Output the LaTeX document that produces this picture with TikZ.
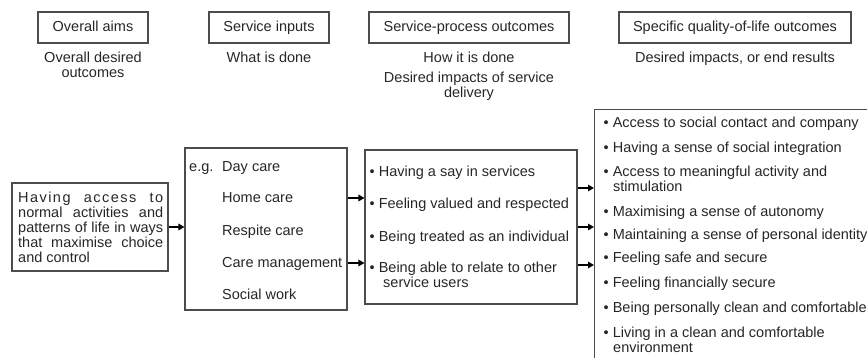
\documentclass[tikz,border=0pt]{standalone}
\usepackage{fontspec}
\setmainfont{Liberation Sans}
\usetikzlibrary{arrows.meta}
\begin{document}
\begin{tikzpicture}[x=1pt,y=-1pt,
  every node/.style={font=\fontsize{14.5}{14.7}\selectfont, inner sep=0pt, text=black!85},
  box/.style={draw=black!70, line width=1.1pt},
  head/.style={box, minimum height=31pt, text height=10.5pt, text depth=3pt},
  arr/.style={-{Triangle[length=6pt,width=6.5pt]}, line width=1.8pt, black},
  lbl/.style={anchor=base west},
  ctr/.style={anchor=base}]
\useasboundingbox (0,0) rectangle (867,358);
\clip (0,0) rectangle (867,358);

% headers
\node[head, minimum width=110pt] (h1) at (93,27.5) {Overall aims};
\node[head, minimum width=120pt] (h2) at (269,27.5) {Service inputs};
\node[head, minimum width=200pt] (h3) at (469,27.5) {Service-process outcomes};
\node[head, minimum width=232pt] (h4) at (735,27.5) {Specific quality-of-life outcomes};

% subtitles
\node[ctr] (s1) at (93,63) {\begin{tabular}[t]{@{}c@{}}Overall desired\\outcomes\end{tabular}};
\node[ctr] (s2) at (269,63) {What is done};
\node[ctr] (s3) at (469,63) {How it is done};
\node[ctr] (s3b) at (469,83) {\begin{tabular}[t]{@{}c@{}}Desired impacts of service\\delivery\end{tabular}};
\node[ctr] (s4) at (735,63) {Desired impacts, or end results};

% overall aim box
\node[box, minimum width=156pt, minimum height=88pt] (aim) at (90,227) {};
\node[lbl] (aimtxt) at (18,203) {\begin{tabular}[t]{@{}l@{}}
\makebox[145pt][s]{\addfontfeature{LetterSpace=10}Having access to}\\
\makebox[145pt][s]{normal activities and}\\
\makebox[145pt][s]{patterns of life in ways}\\
\makebox[145pt][s]{that maximise choice}\\
and control\end{tabular}};

% service inputs box
\node[box, minimum width=162pt, minimum height=162pt] (inp) at (266,229) {};
\node[lbl] (eg) at (189,171.5) {e.g.};
\node[lbl] (i1) at (222,171.5) {Day care};
\node[lbl] (i2) at (222,203) {Home care};
\node[lbl] (i3) at (222,235.5) {Respite care};
\node[lbl] (i4) at (222,267.5) {Care management};
\node[lbl] (i5) at (222,299.5) {Social work};

% service-process box
\node[box, minimum width=212pt, minimum height=154pt] (proc) at (471,227) {};
\node[lbl] (p1) at (369.5,176.5) {\textbullet\ Having a say in services};
\node[lbl] (p2) at (369.5,208.5) {\textbullet\ Feeling valued and respected};
\node[lbl] (p3) at (369.5,241.5) {\textbullet\ Being treated as an individual};
\node[lbl] (p4) at (369.5,272.5) {\begin{tabular}[t]{@{}l@{}}\textbullet\ Being able to relate to other\\\hspace{13.5pt}service users\end{tabular}};

% quality-of-life box (cut by the page edge)
\node[box, anchor=north west, minimum width=320pt, minimum height=280pt] (qol) at (594,109) {};
\node[lbl] (q1) at (603.5,127.5) {\textbullet\ Access to social contact and company};
\node[lbl] (q2) at (603.5,152.5) {\textbullet\ Having a sense of social integration};
\node[lbl] (q3) at (603.5,176.5) {\begin{tabular}[t]{@{}l@{}}\textbullet\ Access to meaningful activity and\\\hspace{9.5pt}stimulation\end{tabular}};
\node[lbl] (q4) at (603.5,216.5) {\textbullet\ Maximising a sense of autonomy};
\node[lbl] (q5) at (603.5,239.5) {\textbullet\ Maintaining a sense of personal identity};
\node[lbl] (q6) at (603.5,262.5) {\textbullet\ Feeling safe and secure};
\node[lbl] (q7) at (603.5,287.5) {\textbullet\ Feeling financially secure};
\node[lbl] (q8) at (603.5,312.5) {\textbullet\ Being personally clean and comfortable};
\node[lbl] (q9) at (603.5,337.5) {\begin{tabular}[t]{@{}l@{}}\textbullet\ Living in a clean and comfortable\\\hspace{9.5pt}environment\end{tabular}};

% connectors
\draw[arr] (aim.east) -- (aim.east -| inp.west);
\draw[arr] ([yshift=31pt]inp.east) -- ([yshift=31pt]inp.east -| proc.west);
\draw[arr] ([yshift=-34pt]inp.east) -- ([yshift=-34pt]inp.east -| proc.west);
\draw[arr] ([yshift=39pt]proc.east) -- ([yshift=39pt]proc.east -| qol.west);
\draw[arr] (proc.east) -- (proc.east -| qol.west);
\draw[arr] ([yshift=-38pt]proc.east) -- ([yshift=-38pt]proc.east -| qol.west);
\end{tikzpicture}
\end{document}
